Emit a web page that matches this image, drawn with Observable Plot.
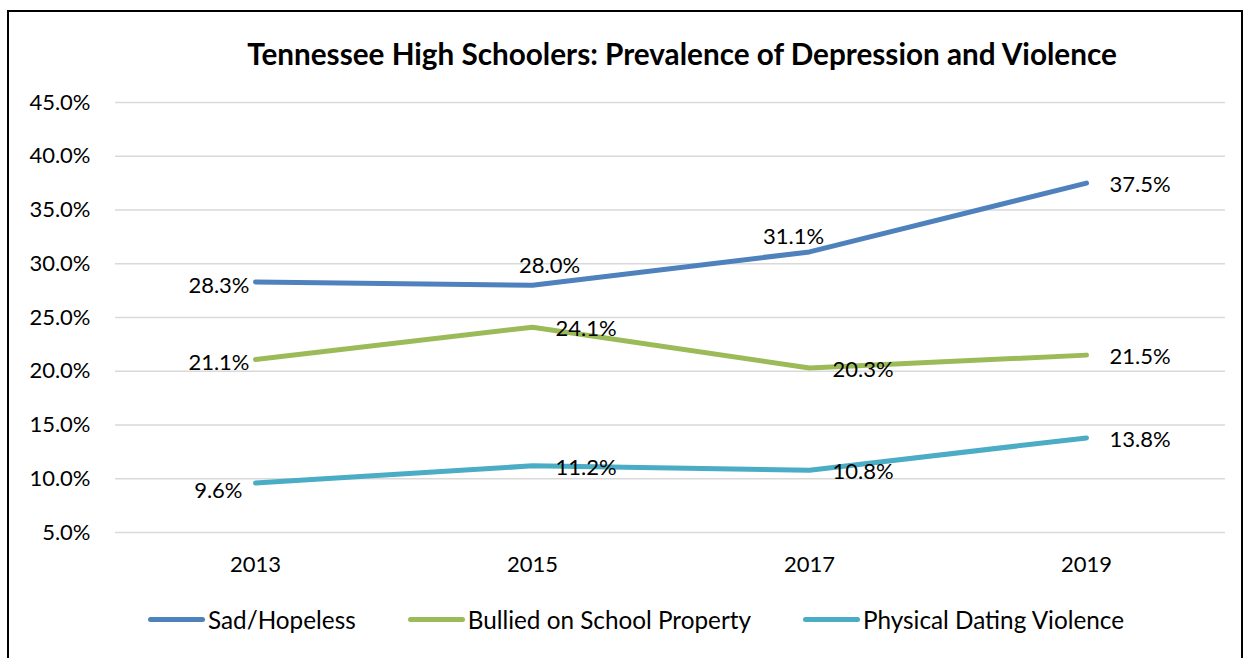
<!DOCTYPE html>
<html>
<head>
<meta charset="utf-8">
<script src="https://cdn.jsdelivr.net/npm/d3@7"></script>
<script src="https://cdn.jsdelivr.net/npm/@observablehq/plot@0.6"></script>
<style>
  html, body { margin: 0; padding: 0; background: #fff; width: 1252px; height: 658px; overflow: hidden; font-family: Lato, "Open Sans", sans-serif; }
  #frame { position: absolute; left: 7px; top: 10px; width: 1236px; height: 660px; border: 2px solid #000; box-sizing: border-box; }
  #title { position: absolute; left: 232px; width: 900px; top: 36px; text-align: center; font-weight: bold; font-size: 29.7px; color: #000; }
  #chart { position: absolute; left: 0; top: 80px; }
  #legend { position: absolute; top: 605px; left: 148px; display: flex; gap: 52px; font-size: 24.3px; color: #000; white-space: nowrap; }
  .item { display: flex; align-items: center; }
  .sw { width: 57px; height: 5px; border-radius: 3px; margin-right: 3px; }
</style>
</head>
<body>
<div id="frame"></div>
<div id="title">Tennessee High Schoolers: Prevalence of Depression and Violence</div>
<div id="chart"></div>
<div id="legend"></div>
<script>
const years = ["2013", "2015", "2017", "2019"];
const seriesNames = ["Sad/Hopeless", "Bullied on School Property", "Physical Dating Violence"];
const sadHopeless = [28.3, 28.0, 31.1, 37.5];
const bullied = [21.1, 24.1, 20.3, 21.5];
const datingViolence = [9.6, 11.2, 10.8, 13.8];
const yTicks = [5, 10, 15, 20, 25, 30, 35, 40, 45];
const colors = ["#4F81BD", "#9BBB59", "#4BACC6"];
// label placement for each point (same order as values)
const sadPlacement = ["left", "aboveRight", "aboveLeft", "right"];
const bulliedPlacement = ["left", "right", "right", "right"];
const datingPlacement = ["below", "right", "right", "right"];

const allValues = [sadHopeless, bullied, datingViolence];
const allPlacement = [sadPlacement, bulliedPlacement, datingPlacement];
const rows = [];
seriesNames.forEach((s, i) => {
  years.forEach((y, j) => rows.push({series: s, year: y, value: allValues[i][j], place: allPlacement[i][j]}));
});

const fmt = v => v.toFixed(1) + "%";
const placeOpts = {
  left: {textAnchor: "end", dx: -6, dy: 4},
  right: {textAnchor: "start", dx: 23, dy: 2},
  aboveRight: {textAnchor: "middle", dx: 17, dy: -19},
  aboveLeft: {textAnchor: "middle", dx: -16, dy: -15},
  below: {textAnchor: "end", dx: -13, dy: 8}
};
const textMarks = Object.entries(placeOpts).map(([k, o]) =>
  Plot.text(rows.filter(r => r.place === k), {
    x: "year", y: "value", text: d => fmt(d.value),
    fill: "#000", fontSize: 22, ...o
  })
);

const chart = Plot.plot({
  width: 1252,
  height: 500,
  marginLeft: 115,
  marginRight: 27,
  marginTop: 22,
  marginBottom: 48,
  style: {fontFamily: "Lato, 'Open Sans', sans-serif", fontSize: "22px", color: "#000", background: "transparent"},
  x: {type: "point", domain: years, padding: 0.5, label: null, tickSize: 0, tickPadding: 24},
  y: {domain: [5, 45], ticks: yTicks, tickFormat: d => d.toFixed(1) + "%", label: null, tickSize: 0, tickPadding: 25},
  color: {domain: seriesNames, range: colors},
  marks: [
    Plot.gridY(yTicks, {stroke: "#d9d9d9", strokeOpacity: 1, strokeWidth: 1.5}),
    Plot.line(rows, {x: "year", y: "value", z: "series", stroke: "series", strokeWidth: 5, strokeLinecap: "round", strokeLinejoin: "round"}),
    ...textMarks
  ]
});
chart.querySelectorAll("g[aria-label='x-axis tick label'] text, g[aria-label='y-axis tick label'] text").forEach(t => t.setAttribute("fill", "#000"));
document.getElementById("chart").appendChild(chart);

const legend = document.getElementById("legend");
seriesNames.forEach((s, i) => {
  const it = document.createElement("div");
  it.className = "item";
  const sw = document.createElement("span");
  sw.className = "sw";
  sw.style.background = colors[i];
  const tx = document.createElement("span");
  tx.textContent = s;
  it.appendChild(sw); it.appendChild(tx);
  legend.appendChild(it);
});
</script>
</body>
</html>
